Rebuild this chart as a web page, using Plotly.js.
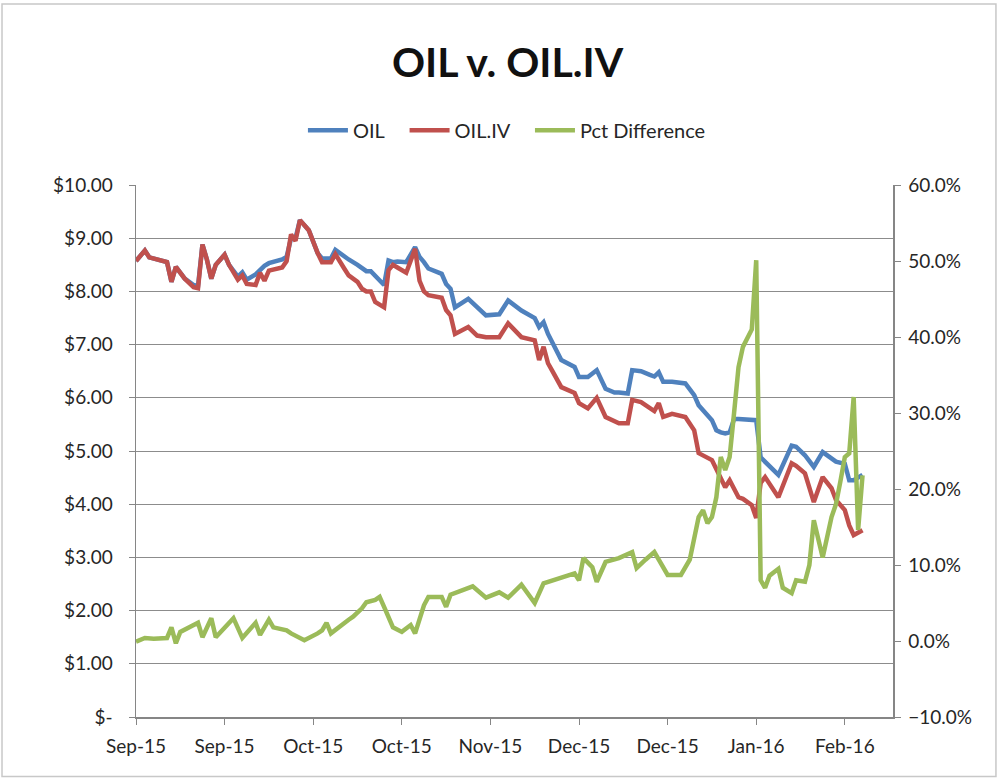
<!DOCTYPE html>
<html>
<head>
<meta charset="utf-8">
<script src="https://cdn.plot.ly/plotly-3.0.1.min.js"></script>
<style>html,body{margin:0;padding:0;background:#fff;}#chart{width:1001px;height:779px;}</style>
</head>
<body>
<div id="chart"></div>
<script>
// Dates shared by OIL and OIL.IV readings
const priceDates = ['2015-09-01','2015-09-03','2015-09-04','2015-09-07','2015-09-08','2015-09-09','2015-09-10','2015-09-12','2015-09-14','2015-09-15','2015-09-16','2015-09-17','2015-09-18','2015-09-19','2015-09-21','2015-09-22','2015-09-24','2015-09-25','2015-09-26','2015-09-28','2015-09-29','2015-09-30','2015-10-01','2015-10-04','2015-10-05','2015-10-06','2015-10-07','2015-10-08','2015-10-10','2015-10-12','2015-10-13','2015-10-15','2015-10-16','2015-10-18','2015-10-19','2015-10-21','2015-10-22','2015-10-23','2015-10-24','2015-10-25','2015-10-27','2015-10-28','2015-10-29','2015-10-30','2015-11-01','2015-11-03','2015-11-04','2015-11-05','2015-11-06','2015-11-09','2015-11-10','2015-11-11','2015-11-12','2015-11-15','2015-11-17','2015-11-19','2015-11-22','2015-11-24','2015-11-27','2015-11-30','2015-12-01','2015-12-02','2015-12-03','2015-12-04','2015-12-06','2015-12-09','2015-12-10','2015-12-12','2015-12-14','2015-12-16','2015-12-18','2015-12-19','2015-12-21','2015-12-22','2015-12-24','2015-12-26','2015-12-27','2015-12-28','2015-12-29','2015-12-31','2016-01-03','2016-01-05','2016-01-06','2016-01-09','2016-01-10','2016-01-11','2016-01-12','2016-01-13','2016-01-14','2016-01-15','2016-01-16','2016-01-18','2016-01-19','2016-01-20','2016-01-21','2016-01-24','2016-01-27','2016-01-28','2016-01-30','2016-02-01','2016-02-03','2016-02-05','2016-02-06','2016-02-08','2016-02-09','2016-02-10','2016-02-12'];
const oil = [8.57,8.77,8.64,8.58,8.55,8.18,8.46,8.24,8.12,8.10,8.88,8.60,8.24,8.50,8.69,8.50,8.28,8.36,8.22,8.32,8.40,8.48,8.53,8.60,8.65,9.00,9.00,9.34,9.15,8.72,8.62,8.62,8.78,8.65,8.60,8.50,8.43,8.38,8.38,8.29,8.12,8.58,8.55,8.56,8.55,8.83,8.65,8.55,8.43,8.33,8.14,8.05,7.70,7.86,7.70,7.55,7.57,7.83,7.64,7.50,7.33,7.42,7.20,7.03,6.71,6.58,6.39,6.39,6.52,6.17,6.10,6.10,6.08,6.52,6.50,6.43,6.40,6.48,6.30,6.30,6.27,6.05,5.86,5.58,5.39,5.35,5.33,5.35,5.60,5.60,5.60,5.60,5.58,4.88,4.80,4.55,5.10,5.08,4.92,4.70,4.98,4.87,4.80,4.76,4.45,4.45,4.55];
const oilIV = [8.57,8.77,8.64,8.58,8.55,8.18,8.46,8.24,8.08,8.06,8.88,8.60,8.24,8.50,8.69,8.50,8.22,8.30,8.14,8.12,8.35,8.20,8.39,8.45,8.57,9.07,8.95,9.34,9.15,8.72,8.55,8.55,8.70,8.43,8.30,8.18,8.05,8.00,8.00,7.80,7.70,8.40,8.50,8.45,8.35,8.80,8.20,8.00,7.93,7.88,7.65,7.55,7.20,7.33,7.17,7.14,7.14,7.40,7.14,7.08,6.71,6.96,6.65,6.50,6.20,6.09,5.90,5.80,6.00,5.64,5.55,5.52,5.52,5.96,5.92,5.80,5.75,5.90,5.64,5.70,5.64,5.39,4.96,4.83,4.65,4.51,4.32,4.45,4.30,4.13,4.10,3.98,3.74,4.40,4.51,4.13,4.77,4.72,4.58,4.04,4.51,4.30,4.08,3.89,3.60,3.42,3.51];

// Pct Difference readings (right axis)
const pctDates = ['2015-09-01','2015-09-03','2015-09-05','2015-09-08','2015-09-09','2015-09-10','2015-09-11','2015-09-15','2015-09-16','2015-09-18','2015-09-19','2015-09-23','2015-09-25','2015-09-28','2015-09-29','2015-10-01','2015-10-02','2015-10-05','2015-10-06','2015-10-09','2015-10-12','2015-10-13','2015-10-14','2015-10-15','2015-10-19','2015-10-20','2015-10-22','2015-10-23','2015-10-25','2015-10-26','2015-10-27','2015-10-29','2015-10-31','2015-11-02','2015-11-03','2015-11-05','2015-11-06','2015-11-09','2015-11-10','2015-11-11','2015-11-16','2015-11-19','2015-11-22','2015-11-24','2015-11-27','2015-11-30','2015-12-02','2015-12-06','2015-12-09','2015-12-10','2015-12-11','2015-12-13','2015-12-14','2015-12-16','2015-12-19','2015-12-22','2015-12-23','2015-12-25','2015-12-27','2015-12-28','2015-12-30','2016-01-02','2016-01-04','2016-01-06','2016-01-07','2016-01-08','2016-01-09','2016-01-10','2016-01-11','2016-01-12','2016-01-13','2016-01-14','2016-01-15','2016-01-16','2016-01-17','2016-01-18','2016-01-19','2016-01-20','2016-01-21','2016-01-22','2016-01-24','2016-01-25','2016-01-27','2016-01-28','2016-01-30','2016-01-31','2016-02-01','2016-02-03','2016-02-05','2016-02-06','2016-02-07','2016-02-08','2016-02-09','2016-02-10','2016-02-11','2016-02-12'];
const pctDiff = [-0.001,0.004,0.003,0.004,0.018,-0.003,0.012,0.024,0.005,0.030,0.005,0.030,0.004,0.024,0.008,0.028,0.018,0.014,0.010,0.001,0.010,0.014,0.024,0.010,0.028,0.032,0.043,0.051,0.054,0.058,0.045,0.018,0.012,0.021,0.010,0.047,0.058,0.058,0.045,0.061,0.072,0.057,0.064,0.057,0.074,0.050,0.076,0.083,0.089,0.080,0.109,0.097,0.078,0.104,0.109,0.117,0.096,0.107,0.117,0.107,0.087,0.087,0.107,0.163,0.172,0.155,0.163,0.189,0.242,0.225,0.242,0.300,0.360,0.387,0.400,0.410,0.501,0.080,0.070,0.086,0.095,0.070,0.063,0.080,0.078,0.100,0.159,0.110,0.163,0.180,0.210,0.242,0.247,0.321,0.146,0.218];

// Axis ticks and series names
const xTickVals = ['2015-09-01','2015-09-21','2015-10-11','2015-10-31','2015-11-20','2015-12-10','2015-12-30','2016-01-19','2016-02-08'];
const xTickText = ['Sep-15','Sep-15','Oct-15','Oct-15','Nov-15','Dec-15','Dec-15','Jan-16','Feb-16'];
const yTickVals = [0,1,2,3,4,5,6,7,8,9,10];
const yTickText = ['$-','$1.00','$2.00','$3.00','$4.00','$5.00','$6.00','$7.00','$8.00','$9.00','$10.00'];
const seriesNames = ['OIL', 'OIL.IV', 'Pct Difference'];

const FONT = 'Lato, "Open Sans", sans-serif';
const PAD = '\u00a0\u00a0\u00a0';
const traces = [
  {x: priceDates, y: oil, name: seriesNames[0] + PAD, type: 'scatter', mode: 'lines',
   line: {color: '#4F81BD', width: 4.5}},
  {x: priceDates, y: oilIV, name: seriesNames[1] + PAD, type: 'scatter', mode: 'lines',
   line: {color: '#C0504D', width: 4.5}},
  {x: pctDates, y: pctDiff, name: seriesNames[2], type: 'scatter', mode: 'lines', yaxis: 'y2',
   line: {color: '#9BBB59', width: 4.5}}
];

const layout = {
  width: 1001, height: 779,
  margin: {l: 136, r: 108, t: 185, b: 62},
  paper_bgcolor: '#ffffff', plot_bgcolor: '#ffffff',
  font: {family: FONT, size: 19, color: '#262626'},
  title: {text: '<b>OIL v. OIL.IV</b>', x: 0.507, xanchor: 'center', y: 0.92, yanchor: 'middle',
          font: {family: FONT, size: 41, color: '#111111'}},
  showlegend: true,
  legend: {orientation: 'h', x: 0.49, xanchor: 'center', y: 1.103, yanchor: 'middle',
           font: {family: FONT, size: 20, color: '#262626'}, bgcolor: 'rgba(0,0,0,0)',
           itemwidth: 40, tracegroupgap: 0},
  xaxis: {type: 'date', range: ['2015-09-01', '2016-02-18 21:00'],
          tickmode: 'array', tickvals: xTickVals, ticktext: xTickText,
          showgrid: false, zeroline: false, showline: true, linecolor: '#868686', linewidth: 1.5,
          ticks: 'outside', ticklen: 6, tickcolor: '#868686', ticklabelstandoff: 6,
          tickfont: {family: FONT, size: 19, color: '#262626'}},
  yaxis: {range: [0, 10], tickmode: 'array', tickvals: yTickVals, ticktext: yTickText,
          showgrid: true, gridcolor: '#8c8c8c', gridwidth: 1, zeroline: false,
          showline: true, linecolor: '#868686', linewidth: 1.5,
          ticks: 'outside', ticklen: 6, tickcolor: '#868686', ticklabelstandoff: 12,
          tickfont: {family: FONT, size: 19, color: '#262626'}},
  yaxis2: {overlaying: 'y', side: 'right', range: [-0.1, 0.6], dtick: 0.1, tickformat: '.1%',
           showgrid: false, zeroline: false, showline: true, linecolor: '#868686', linewidth: 1.5,
           ticks: 'outside', ticklen: 6, tickcolor: '#868686', ticklabelstandoff: 4,
           tickfont: {family: FONT, size: 19, color: '#262626'}},
  shapes: [{type: 'rect', xref: 'paper', yref: 'paper', x0: -0.177, x1: 1.136, y0: -0.112, y1: 1.34,
            line: {color: '#c8c8c8', width: 1.5}, fillcolor: 'rgba(0,0,0,0)'}]
};

Plotly.newPlot('chart', traces, layout, {displayModeBar: false, staticPlot: true});
</script>
</body>
</html>
